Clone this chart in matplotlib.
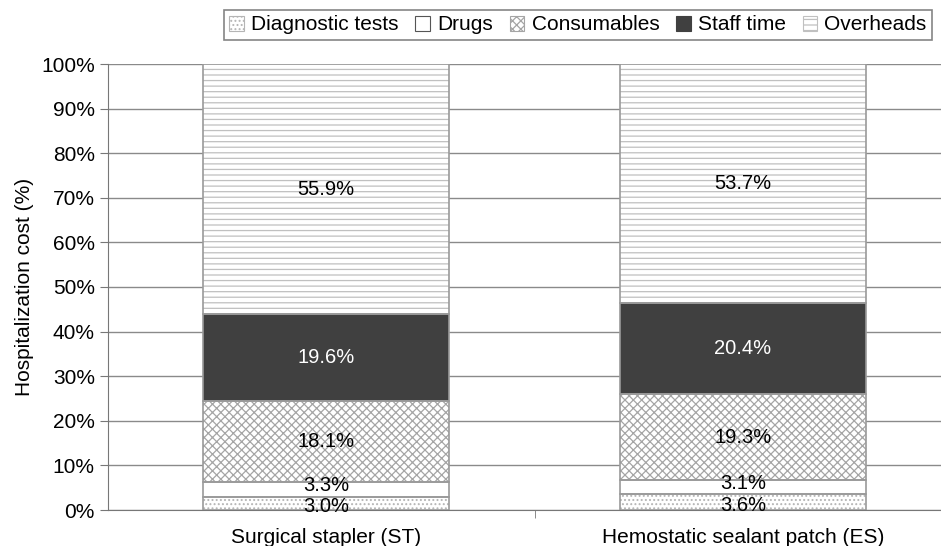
import numpy as np
import matplotlib
matplotlib.use('Agg')
import matplotlib.pyplot as plt

plt.rcParams['font.family'] = ['Liberation Sans', 'DejaVu Sans']
plt.rcParams['hatch.linewidth'] = 0.9

categories = ['Surgical stapler (ST)', 'Hemostatic sealant patch (ES)']
components = ['Diagnostic tests', 'Drugs', 'Consumables', 'Staff time', 'Overheads']
diagnostic = [3.0, 3.6]
drugs = [3.3, 3.1]
consumables = [18.1, 19.3]
staff = [19.6, 20.4]
overheads = [55.9, 53.7]

series = [diagnostic, drugs, consumables, staff, overheads]
faces = ['white', 'white', 'white', '#404040', 'white']
hatches = ['....', None, 'xxxx', None, '---']
hatch_cols = ['#b5b5b5', 'white', '#a5a5a5', '#404040', '#c0c0c0']
text_colors = ['black', 'black', 'black', 'white', 'black']
# small nudges so the thin segments' labels don't collide
label_shift = [-0.8, 0.8, 0, 0, 0]

fig = plt.figure(figsize=(9.41, 5.46), dpi=100)
ax = fig.add_axes([108/941, 36/546, (941-108)/941, (510-64)/546])

x = np.arange(len(categories))
bottom = np.zeros(len(categories))
handles = []
for vals, fc, h, hc, tc, dy, name in zip(series, faces, hatches, hatch_cols,
                                         text_colors, label_shift, components):
    vals = np.array(vals)
    ax.bar(x, vals, 0.59, bottom=bottom, color=fc, edgecolor=hc,
           hatch=h, linewidth=0, zorder=3)
    b = ax.bar(x, vals, 0.59, bottom=bottom, fill=False, edgecolor='#9a9a9a',
               linewidth=1.2, zorder=4)
    for xi, v, b0 in zip(x, vals, bottom):
        ax.text(xi, b0 + v/2 + dy, f'{v:.1f}%', ha='center', va='center',
                fontsize=14.5, color=tc, zorder=5, clip_on=False)
    bottom += vals

# legend proxies
from matplotlib.patches import Patch
for fc, h, hc in zip(faces, hatches, hatch_cols):
    edge = '#555555' if fc != '#404040' else '#404040'
    handles.append(Patch(facecolor=fc, edgecolor=hc if h else edge, hatch=h,
                         linewidth=0.8))

ax.set_ylim(0, 100)
ax.set_xlim(-0.523, 1.475)
ax.set_yticks(np.arange(0, 101, 10))
ax.set_yticklabels([f'{t}%' for t in range(0, 101, 10)], fontsize=15)
ax.set_xticks(x)
ax.set_xticklabels(categories, fontsize=15)
ax.set_xticks([0.5], minor=True)
ax.tick_params(axis='x', which='major', length=0, pad=13)
ax.tick_params(axis='x', which='minor', length=6, color='#777777')
ax.tick_params(axis='y', length=6, color='#777777')
ax.yaxis.grid(True, color='#8a8a8a', linewidth=1, zorder=0)
ax.set_axisbelow(True)
for s in ['top', 'right']:
    ax.spines[s].set_visible(False)
ax.spines['left'].set_color('#777777')
ax.spines['bottom'].set_color('#777777')
ax.set_ylabel('Hospitalization cost (%)', fontsize=15, labelpad=5)

leg = fig.legend(handles=handles, labels=components, loc='center',
                 bbox_to_anchor=(578/941, 1 - 25/546), ncol=5, fontsize=15,
                 frameon=True, fancybox=False, edgecolor='#666666',
                 handlelength=0.7, handleheight=0.7, handletextpad=0.35,
                 columnspacing=0.8, borderpad=0.25)
leg.get_frame().set_linewidth(1.2)

fig.savefig('out.png', dpi=100)
